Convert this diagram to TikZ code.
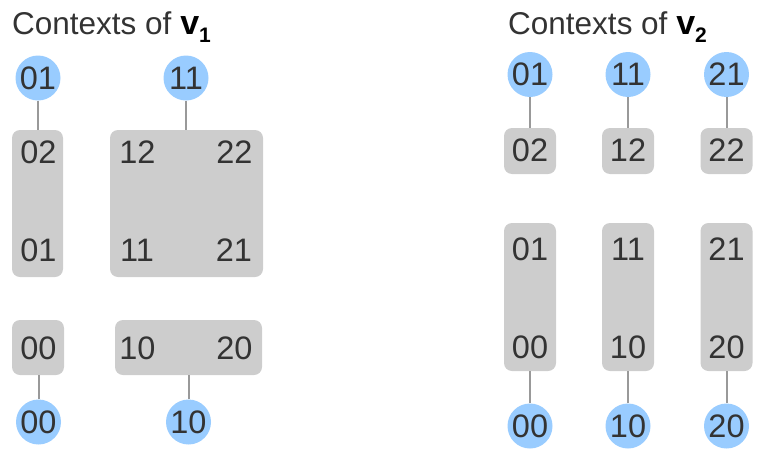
\documentclass[tikz,border=0pt]{standalone}
\usepackage{fontspec}
\setmainfont{Liberation Sans}
\definecolor{ctxblue}{HTML}{99CCFF}
\definecolor{ctxgray}{HTML}{CDCDCD}
\definecolor{ctxline}{HTML}{999999}
\definecolor{ctxtext}{HTML}{333333}
\newcommand{\ctxtitle}[1]{Contexts of \textcolor{black}{\bfseries\fontsize{34}{34}\selectfont v\raisebox{-0.25em}{\fontsize{21}{21}\selectfont #1}}}
\begin{document}
\begin{tikzpicture}[x=1pt,y=-1pt,
  num/.style={font=\fontsize{32.5}{32.5}\selectfont, text=ctxtext, inner sep=0pt},
  vertex/.style={circle, fill=ctxblue, minimum size=45pt, num},
  ctxbox/.style={fill=ctxgray, rounded corners=8pt, inner sep=0pt},
  link/.style={draw=ctxline, line width=2pt}]
\useasboundingbox (0,0) rectangle (760,458);

% contexts of v1
\node[anchor=base west, font=\fontsize{31.5}{31.5}\selectfont, text=ctxtext, inner sep=0pt] (title1) at (12,34) {\ctxtitle{1}};

\node[vertex] (a01) at (38,78) {01};
\node[vertex] (a11) at (186,78) {11};
\node[ctxbox, minimum width=51pt, minimum height=147pt] (abox0) at (37.5,203.5) {};
\node[ctxbox, minimum width=153pt, minimum height=147pt] (abox1) at (186.5,203.5) {};
\node[num] (a02l) at (38.5,152) {02};
\node[num] (a01l) at (38.5,250) {01};
\node[num] (a12l) at (137.5,152) {12};
\node[num] (a22l) at (234.5,152) {22};
\node[num] (a11l) at (137,250) {11};
\node[num] (a21l) at (234,250) {21};

\node[ctxbox, minimum width=52pt, minimum height=55pt] (abox2) at (38,347.5) {};
\node[ctxbox, minimum width=147pt, minimum height=55pt] (abox3) at (188.5,347.5) {};
\node[num] (a00l) at (38.5,348) {00};
\node[num] (a10l) at (137.5,348) {10};
\node[num] (a20l) at (234.5,348) {20};
\node[vertex] (a00) at (38.5,422) {00};
\node[vertex] (a10) at (188.5,422) {10};

\draw[link] (a01) -- (a01 |- abox0.north);
\draw[link] (a11) -- (a11 |- abox1.north);
\draw[link] (a00) -- (a00 |- abox2.south);
\draw[link] (a10) -- (a10 |- abox3.south);

% contexts of v2
\node[anchor=base west, font=\fontsize{31.5}{31.5}\selectfont, text=ctxtext, inner sep=0pt] (title2) at (508,34) {\ctxtitle{2}};

\foreach \i/\x in {0/530,1/628,2/726.5}{
  \node[vertex] (b\i1) at (\x,74.5) {\i1};
  \node[ctxbox, minimum width=52pt, minimum height=46pt] (bsmall\i) at (\x,151) {};
  \node[num] (b\i2l) at (\x,150) {\i2};
  \node[ctxbox, minimum width=52pt, minimum height=148pt] (btall\i) at (\x,297) {};
  \node[num] (b\i1l) at (\x,249) {\i1};
  \node[num] (b\i0l) at (\x,347) {\i0};
  \node[vertex] (b\i0) at (\x,426) {\i0};
  \draw[link] (b\i1) -- (bsmall\i);
  \draw[link] (b\i0) -- (btall\i);
}
\end{tikzpicture}
\end{document}
